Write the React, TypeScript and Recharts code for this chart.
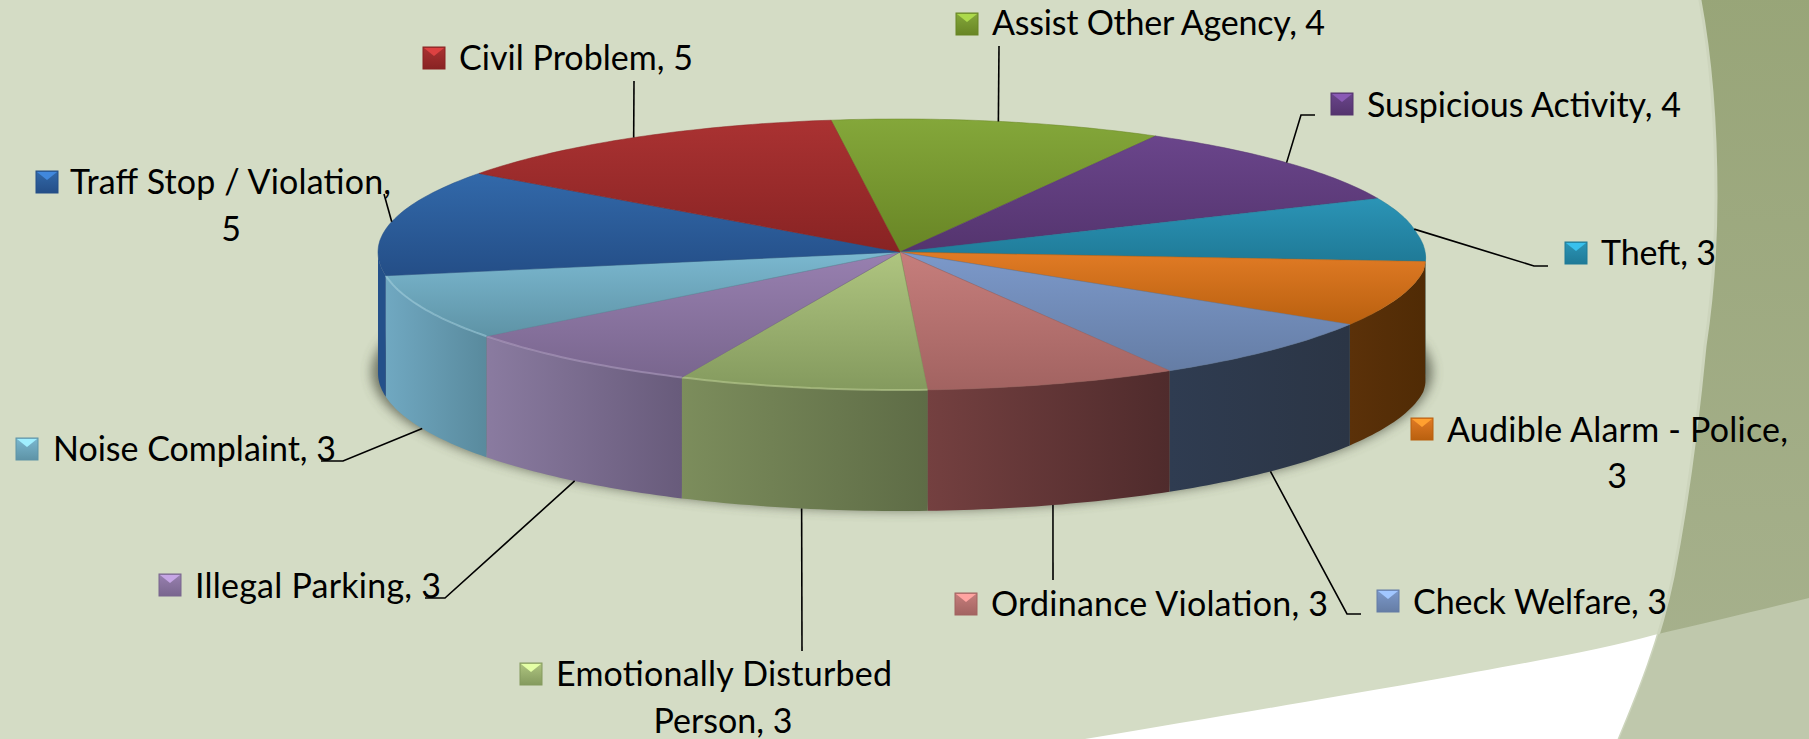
import { PieChart, Pie } from 'recharts'

// slices, clockwise from the top of the pie
const categories = [
  'Assist Other Agency', 'Suspicious Activity', 'Theft', 'Audible Alarm - Police', 'Check Welfare',
  'Ordinance Violation', 'Emotionally Disturbed Person', 'Illegal Parking', 'Noise Complaint',
  'Traff Stop / Violation', 'Civil Problem',
]
const counts = [4, 4, 3, 3, 3, 3, 3, 3, 3, 5, 5]

const topLight = ['#84a73a', '#6a458b', '#2b94b6', '#e17b25', '#7c99ca', '#c67e7c', '#afc580', '#9880b0', '#7bb8d0', '#3269aa', '#aa3232']
const topDark = ['#688525', '#54346e', '#1f7a97', '#b9600f', '#657da5', '#a26361', '#849a5e', '#79668e', '#5e93a6', '#244e87', '#882323']
const wallLight = ['#688525', '#54346e', '#1f7a97', '#5b3109', '#2f3c51', '#744040', '#7c8d5c', '#8a7ba0', '#70a8c1', '#24508a', '#882323']
const wallDark = ['#688525', '#54346e', '#1f7a97', '#502b05', '#2b3545', '#4f2b2c', '#5e6c46', '#685b7b', '#598a9d', '#24508a', '#882323']
const rimColors = [null, null, null, null, null, null, '#c6d89c', '#b7a5ca', '#a8d5e5', null, null]

// label placement: marker corner, text x, baseline, first line width, second line, leader bends
const labelLayout = [
  { mx: 956, my: 13, tx: 992, ty: 35, tw: 333, wrap: 0, x2: 0, y2: 0, bends: [[999, 46]] },
  { mx: 1331, my: 93, tx: 1367, ty: 117, tw: 314, wrap: 0, x2: 0, y2: 0, bends: [[1301, 115], [1315, 115]] },
  { mx: 1565, my: 242, tx: 1601, ty: 265, tw: 115, wrap: 0, x2: 0, y2: 0, bends: [[1534, 266], [1548, 266]] },
  { mx: 1411, my: 418, tx: 1447, ty: 442, tw: 341, wrap: 23, x2: 1617, y2: 488, bends: [] },
  { mx: 1377, my: 590, tx: 1413, ty: 614, tw: 254, wrap: 0, x2: 0, y2: 0, bends: [[1347, 614], [1361, 614]] },
  { mx: 955, my: 593, tx: 991, ty: 616, tw: 337, wrap: 0, x2: 0, y2: 0, bends: [[1053, 580]] },
  { mx: 520, my: 663, tx: 556, ty: 686, tw: 336, wrap: 21, x2: 723, y2: 733, bends: [[802, 651]] },
  { mx: 159, my: 574, tx: 195, ty: 598, tw: 246, wrap: 0, x2: 0, y2: 0, bends: [[445, 598], [425, 598]] },
  { mx: 16, my: 438, tx: 53, ty: 461, tw: 283, wrap: 0, x2: 0, y2: 0, bends: [[343, 461], [321, 461]] },
  { mx: 36, my: 171, tx: 70, ty: 194, tw: 321, wrap: 23, x2: 231, y2: 241, bends: [[384, 194]] },
  { mx: 423, my: 47, tx: 459, ty: 70, tw: 234, wrap: 0, x2: 0, y2: 0, bends: [[634, 81]] },
]

const chartData = categories.map((name, i) => ({ name, value: counts[i] }))

const W = 1809
const H = 739
const CX = 900
const CY = 252
const RX = 522
const RY_BACK = 133
const RY_FRONT = 138
const DEPTH = 121
const FONT = 34

const rad = (a: number) => (a * Math.PI) / 180

// the near right side of the disc sits a little wider because of the perspective
function rimPoint(angle: number, drop = 0) {
  const s = Math.sin(rad(angle))
  const c = Math.cos(rad(angle))
  const ry = s > 0 ? RY_BACK : RY_FRONT
  const widen = c > 0 ? 1 + 0.012 * Math.min(1, Math.max(0, (0.14 - s) / 0.28)) : 1
  return [CX + RX * widen * c, CY - ry * s + drop]
}

function arcPoints(from: number, to: number, drop = 0) {
  const pts: number[][] = []
  const steps = Math.max(2, Math.ceil(Math.abs(from - to)))
  for (let i = 0; i <= steps; i++) pts.push(rimPoint(from + ((to - from) * i) / steps, drop))
  return pts
}

const toD = (pts: number[][]) => pts.map((p, i) => `${i ? 'L' : 'M'}${p[0].toFixed(1)},${p[1].toFixed(1)}`).join(' ')

// part of a slice that faces the viewer (lower half of the ellipse)
function frontRange(start: number, end: number) {
  const hi = Math.min(start, 0)
  const lo = Math.max(end, -180)
  return hi > lo ? [hi, lo] : null
}

function TopSlice(props: any) {
  const { startAngle, endAngle, index } = props
  const i = index ?? categories.indexOf(props.name)
  const d = `M${CX},${CY} ${toD(arcPoints(startAngle, endAngle)).replace('M', 'L')} Z`
  const front = frontRange(startAngle, endAngle)
  return (
    <g>
      <path d={d} fill={`url(#top-${i})`} stroke={topDark[i]} strokeWidth={0.5} />
      {front && rimColors[i] && (
        <path d={toD(arcPoints(front[0], front[1]))} fill="none" stroke={rimColors[i] as string} strokeWidth={2} opacity={0.5} />
      )}
    </g>
  )
}

function WallSlice(props: any) {
  const { startAngle, endAngle, index } = props
  const i = index ?? categories.indexOf(props.name)
  const front = frontRange(startAngle, endAngle)
  if (!front) return <g />
  const upper = arcPoints(front[0], front[1])
  const lower = arcPoints(front[1], front[0], DEPTH)
  return <path d={`${toD(upper)} ${toD(lower).replace('M', 'L')} Z`} fill={`url(#wall-${i})`} />
}

function SliceLabel(props: any) {
  const { midAngle, index } = props
  const layout = labelLayout[index]
  const text = `${categories[index]}, ${counts[index]}`
  const first = layout.wrap ? text.slice(0, layout.wrap).trimEnd() : text
  const second = layout.wrap ? text.slice(layout.wrap).trim() : ''
  const isFront = Math.sin(rad(midAngle)) < 0
  const start = rimPoint(midAngle, isFront ? DEPTH : 0)
  return (
    <g>
      {layout.bends.length > 0 && (
        <polyline
          points={[start, ...layout.bends].map((p) => p.join(',')).join(' ')}
          fill="none"
          stroke="#000"
          strokeWidth={1.6}
        />
      )}
      <rect x={layout.mx} y={layout.my} width={22} height={22} fill={`url(#marker-${index})`} stroke={topDark[index]} strokeWidth={1} />
      <polygon
        points={`${layout.mx + 1},${layout.my + 1} ${layout.mx + 21},${layout.my + 1} ${layout.mx + 11},${layout.my + 9}`}
        fill={topLight[index]}
        style={{ filter: 'brightness(1.3)' }}
      />
      <text x={layout.tx} y={layout.ty} fontFamily="Lato" fontSize={FONT} fill="#000" textLength={layout.tw} lengthAdjust="spacing">
        {first}
      </text>
      {second && (
        <text x={layout.x2} y={layout.y2} textAnchor="middle" fontFamily="Lato" fontSize={FONT} fill="#000">
          {second}
        </text>
      )}
    </g>
  )
}

function Backdrop() {
  const band = 'M1698,-10 C1712,60 1716,130 1716,196 C1716,250 1712,300 1705,346 C1697,430 1686,510 1673,577 C1660,640 1640,690 1615,749 L1830,749 L1830,-10 Z'
  const lowerPart = 'M1085,739 C1200,720 1300,703 1420,682 C1520,664 1600,650 1654,635 C1710,622 1760,610 1809,598 L1809,739 Z'
  return (
    <svg width={W} height={H} style={{ position: 'absolute', left: 0, top: 0 }}>
      <defs>
        <linearGradient id="band" x1="0" y1="0" x2="0" y2="1">
          <stop offset="0" stopColor="#98a578" />
          <stop offset="1" stopColor="#a8b28f" />
        </linearGradient>
        <clipPath id="bandClip">
          <path d={band} />
        </clipPath>
      </defs>
      <rect width={W} height={H} fill="#d4dcc5" />
      <path d={lowerPart} fill="#fff" />
      <path d={band} fill="url(#band)" stroke="#cdd5bd" strokeWidth={3} />
      <path d={lowerPart} fill="#bfc8ac" clipPath="url(#bandClip)" />
    </svg>
  )
}

export default function App() {
  return (
    <div style={{ position: 'absolute', left: 0, top: 0, width: W, height: H, overflow: 'hidden' }}>
      <Backdrop />
      <div style={{ position: 'absolute', left: 0, top: 0 }}>
        <PieChart width={W} height={H} margin={{ top: 0, right: 0, bottom: 0, left: 0 }}>
          <defs>
            {categories.map((_, i) => (
              <g key={i}>
                <linearGradient id={`top-${i}`} x1="0" y1="0" x2="0" y2="1">
                  <stop offset="0" stopColor={topLight[i]} />
                  <stop offset="1" stopColor={topDark[i]} />
                </linearGradient>
                <linearGradient id={`wall-${i}`} x1="0" y1="0" x2="1" y2="0">
                  <stop offset="0" stopColor={wallLight[i]} />
                  <stop offset="1" stopColor={wallDark[i]} />
                </linearGradient>
                <linearGradient id={`marker-${i}`} x1="0" y1="0" x2="0" y2="1">
                  <stop offset="0" stopColor={topLight[i]} />
                  <stop offset="1" stopColor={topDark[i]} />
                </linearGradient>
              </g>
            ))}
            <filter id="pieShadow" x="-10%" y="-20%" width="120%" height="140%">
              <feGaussianBlur stdDeviation="6" />
            </filter>
          </defs>
          <ellipse cx={CX + 2} cy={CY + DEPTH - 1} rx={RX + 8} ry={RY_FRONT} fill="#4c5040" opacity={0.75} filter="url(#pieShadow)" />
          <Pie
            data={chartData}
            dataKey="value"
            nameKey="name"
            cx={CX}
            cy={CY}
            outerRadius={RX}
            startAngle={97.6}
            endAngle={-262.4}
            paddingAngle={0}
            stroke="none"
            isAnimationActive={false}
            shape={WallSlice}
          />
          <Pie
            data={chartData}
            dataKey="value"
            nameKey="name"
            cx={CX}
            cy={CY}
            outerRadius={RX}
            startAngle={97.6}
            endAngle={-262.4}
            paddingAngle={0}
            stroke="none"
            isAnimationActive={false}
            shape={TopSlice}
            labelLine={false}
            label={SliceLabel}
          />
        </PieChart>
      </div>
    </div>
  )
}
